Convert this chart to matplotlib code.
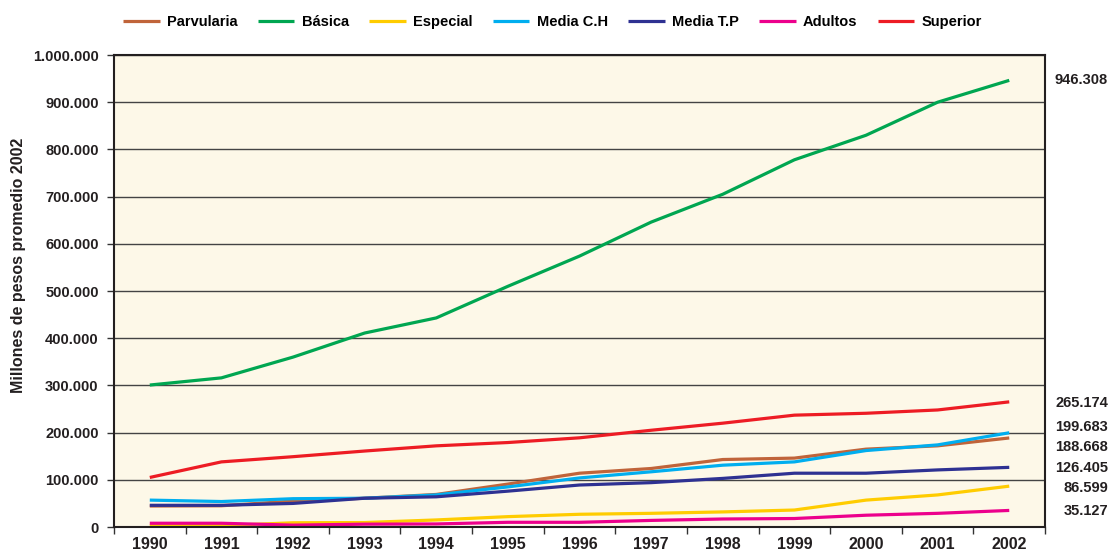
import numpy as np
import matplotlib
matplotlib.use("Agg")
import matplotlib.pyplot as plt
from matplotlib.ticker import FuncFormatter, FixedLocator

plt.rcParams['font.family'] = ['Liberation Sans', 'DejaVu Sans']
plt.rcParams['font.weight'] = 'bold'

# datos (millones de pesos promedio 2002)
years = [1990, 1991, 1992, 1993, 1994, 1995, 1996, 1997, 1998, 1999, 2000, 2001, 2002]
parvularia = [44500, 45000, 55000, 61000, 69000, 91000, 114000, 124000, 143000, 146000, 165000, 172000, 188668]
basica = [300800, 316000, 360000, 411000, 443000, 510000, 574000, 646000, 705000, 778000, 830000, 900000, 946308]
especial = [3000, 3000, 9000, 9500, 15000, 22000, 27000, 29000, 32000, 36000, 57000, 68000, 86599]
media_ch = [57000, 54000, 60000, 61000, 68000, 85000, 104000, 117000, 131000, 138000, 162000, 174000, 199683]
media_tp = [46000, 46000, 50000, 61000, 64000, 76000, 89000, 94000, 103000, 114000, 114000, 121000, 126405]
adultos = [8000, 8000, 4000, 6000, 6500, 10000, 10000, 14000, 17000, 18000, 25000, 29000, 35127]
superior = [105000, 138000, 149000, 161000, 172000, 179000, 189000, 205000, 220000, 237000, 241000, 248000, 265174]

series_names = ["Parvularia", "Básica", "Especial", "Media C.H", "Media T.P", "Adultos", "Superior"]
series_values = [parvularia, basica, especial, media_ch, media_tp, adultos, superior]
colors = ["#C0643A", "#00A651", "#FFCC00", "#00AEEF", "#2E3192", "#EC008C", "#ED1C24"]

# etiquetas finales (texto y posición vertical separada para que no se solapen)
end_labels = ["946.308", "265.174", "199.683", "188.668", "126.405", "86.599", "35.127"]
end_label_y = [947000, 262700, 212000, 169500, 125000, 82600, 33900]

AX_RECT = [0.1025, 0.0487, 0.8373, 0.852]
TXT = '#231F20'


def fmt_miles(v, pos):
    return f"{int(v):,}".replace(",", ".")


fig = plt.figure(figsize=(11.12, 5.54), dpi=100)
ax = fig.add_axes(AX_RECT)
ax.set_facecolor("#FDF8E8")

x = np.arange(len(years))
lines = []
for name, vals, c in zip(series_names, series_values, colors):
    ln, = ax.plot(x, vals, color=c, linewidth=2.3, label=name, solid_capstyle='butt')
    lines.append(ln)

ax.set_xlim(-0.5, len(years) - 0.5)
ax.set_ylim(0, 1000000)
ax.yaxis.set_major_locator(FixedLocator(np.arange(0, 1000001, 100000)))
ax.yaxis.set_major_formatter(FuncFormatter(fmt_miles))
ax.set_xticks(x)
ax.set_xticklabels([str(y) for y in years])
ax.set_xticks(np.arange(-0.5, len(years)), minor=True)
ax.tick_params(axis='x', which='major', length=0, pad=7.5, labelsize=11.5)
ax.tick_params(axis='x', which='minor', length=5, width=1, color='#333333', direction='out')
ax.tick_params(axis='y', length=5, width=1, color='#333333', labelsize=10.5, pad=6)
for lbl in ax.get_xticklabels() + ax.get_yticklabels():
    lbl.set_fontweight('bold')
    lbl.set_color(TXT)

ax.grid(axis='y', color='#444444', linewidth=1)
ax.set_axisbelow(True)
for s in ax.spines.values():
    s.set_color(TXT)
    s.set_linewidth(1.5)

ax.set_ylabel("Millones de pesos promedio 2002", fontsize=11.5, fontweight='bold', color=TXT)
ax.yaxis.set_label_coords(-0.095, 0.555)

# etiquetas a la derecha, alineadas al borde derecho de la figura
xa = (1108 / 1112 - AX_RECT[0]) / AX_RECT[2]
for txt, yv in zip(end_labels, end_label_y):
    ax.text(xa, yv, txt, transform=ax.get_yaxis_transform(), fontsize=10.5,
            fontweight='bold', ha='right', va='center', color=TXT)

fig.legend(handles=lines, loc='center', bbox_to_anchor=(0.497, 0.96), ncol=7,
           frameon=False, handlelength=2.5, columnspacing=1.4,
           handletextpad=0.5, prop={'weight': 'bold', 'size': 10.5})

fig.savefig("out.png", dpi=100)
